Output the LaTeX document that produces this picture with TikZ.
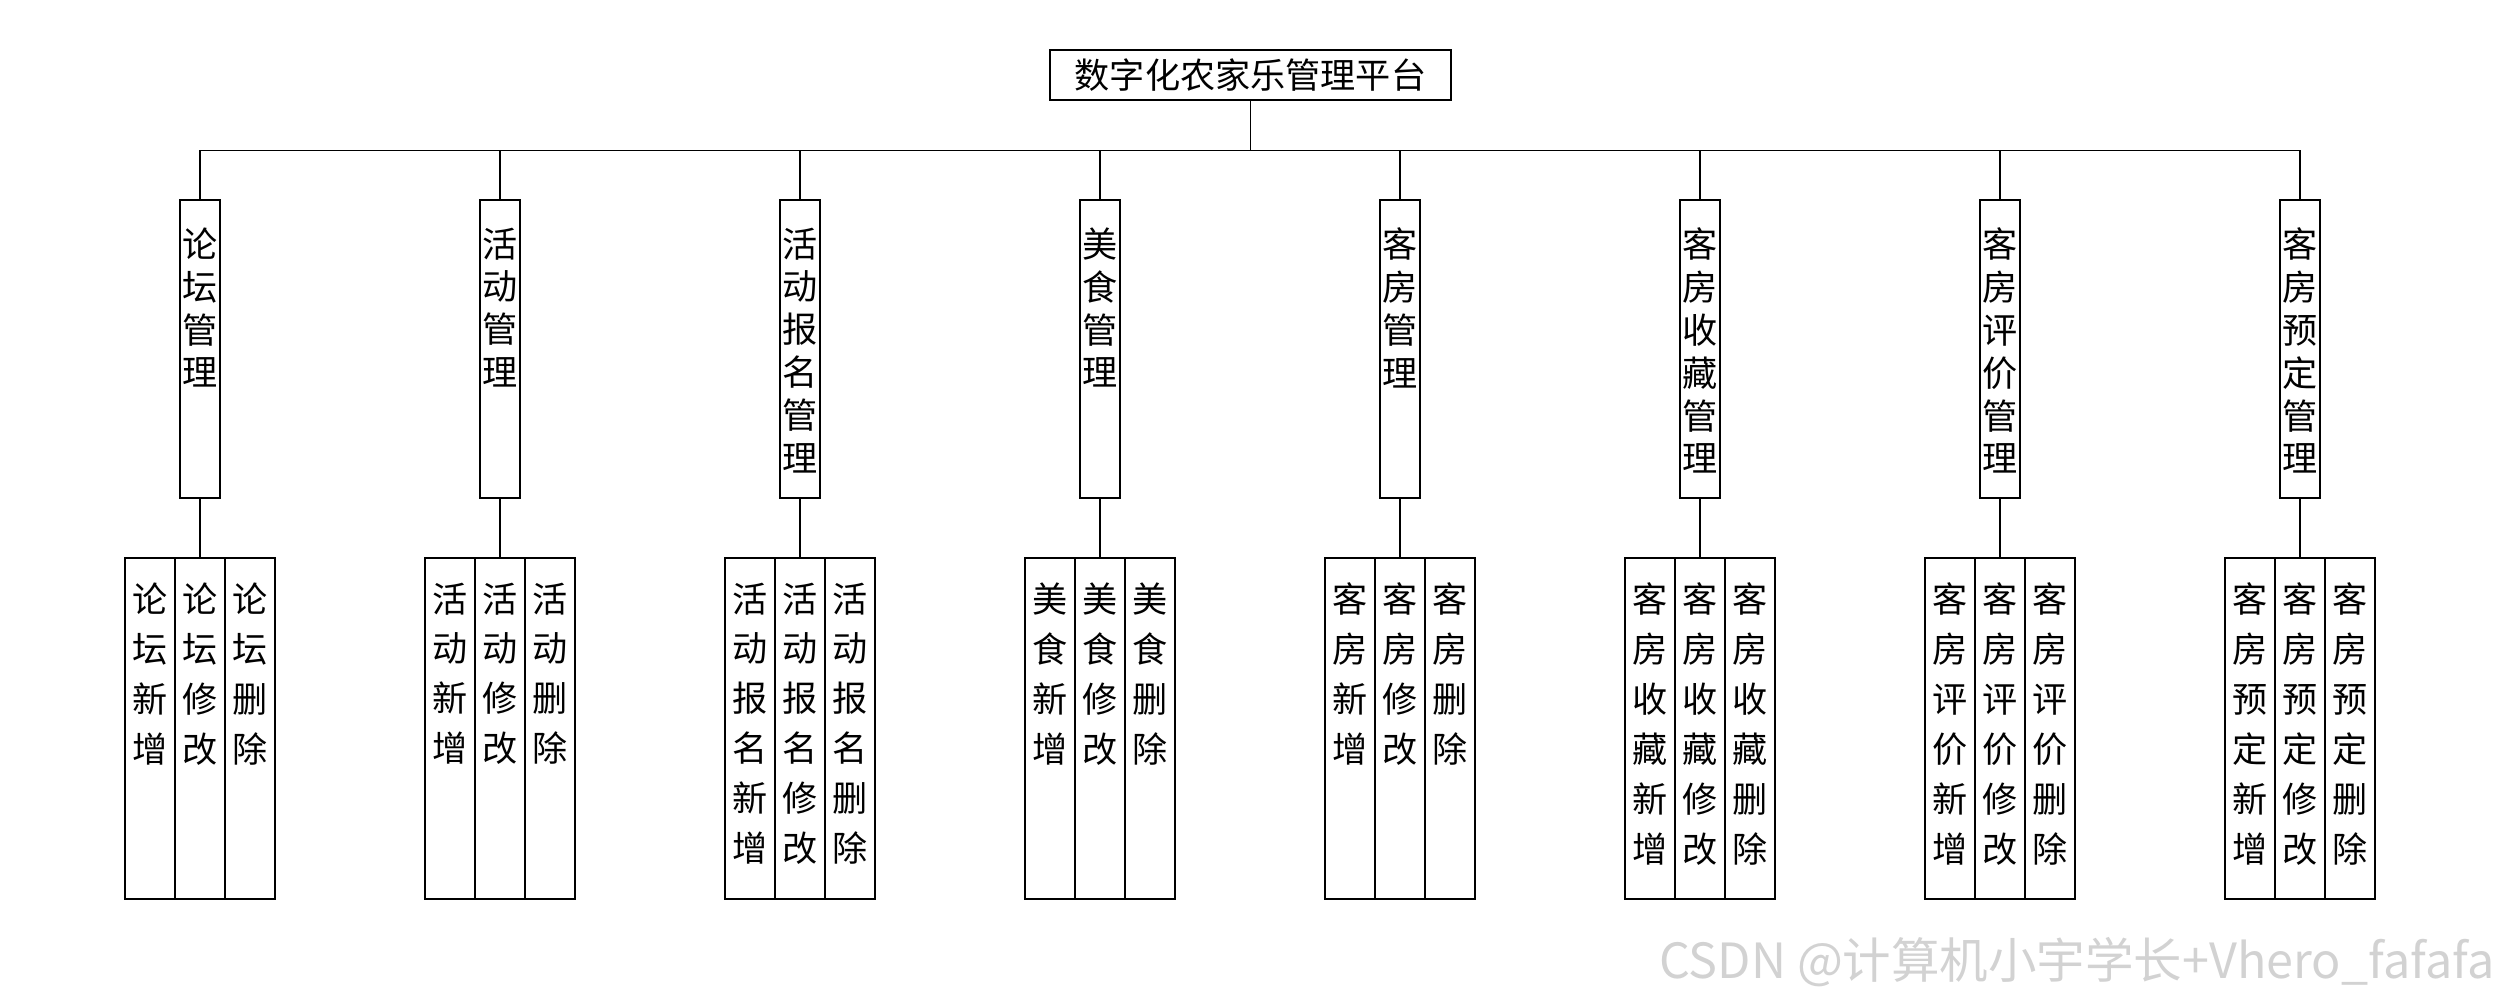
\documentclass[tikz,border=0pt]{standalone}
\usepackage{fontspec}
\setmainfont{Noto Sans CJK SC}
\usetikzlibrary{positioning}
\tikzset{
  rootbox/.style={rectangle, draw, minimum width=4.01cm, minimum height=0.5cm,
                  inner sep=0pt, font=\fontsize{10pt}{12pt}\selectfont},
  modbox/.style={rectangle, draw, minimum width=0.4cm, minimum height=2.98cm,
                 inner sep=0pt, outer sep=0pt},
  opbox/.style={rectangle, draw, minimum width=0.5cm, minimum height=3.41cm,
                inner sep=0pt, outer sep=0pt},
  modtext/.style={inner sep=0pt, align=center, font=\fontsize{10pt}{12.2pt}\selectfont},
  optext/.style={inner sep=0pt, align=center, font=\fontsize{10pt}{14.2pt}\selectfont},
  link/.style={line width=0.4pt},
}

\begin{document}
\begin{tikzpicture}
  \useasboundingbox (0,0) rectangle (25,-10);
  \def\W{3} \def\Y{-3.49} \def\Z{-7.285}

  % Root
  \node[rootbox] (root) at (12.505,-0.75) {数字化农家乐管理平台};

  % Modules and their operations
  \foreach \i/\pre in {1/{论\\坛}, 2/{活\\动}, 3/{活\\动\\报\\名}, 4/{美\\食},
                       5/{客\\房}, 6/{客\\房\\收\\藏}, 7/{客\\房\\评\\价}, 8/{客\\房\\预\\定}} {
    \pgfmathsetmacro\x{2+(\i-1)*\W}
    \node[modbox] (m\i) at (\x,\Y) {};
    \node[modtext, below=0.27cm of m\i.north] (mt\i) {\pre\\管\\理};
    \draw[link] (root.south) -- ++(0,-0.5) -| (m\i.north);

    \node[opbox] (m\i-2) at (\x,\Z) {};
    \node[opbox, left=0pt of m\i-2] (m\i-1) {};
    \node[opbox, right=0pt of m\i-2] (m\i-3) {};
    \node[optext, below=0.24cm of m\i-1.north] (t\i-1) {\pre\\新\\增};
    \node[optext, below=0.24cm of m\i-2.north] (t\i-2) {\pre\\修\\改};
    \node[optext, below=0.24cm of m\i-3.north] (t\i-3) {\pre\\删\\除};
    \draw[link] (m\i.south) -- (m\i-2.north);
  }

  % Watermark
  \node[font=\fontsize{13.8pt}{16pt}\selectfont, text=gray!35, anchor=base east,
        inner sep=0pt] (mark) at (24.95,-9.79) {CSDN @计算机小宇学长+Vhero\_fafafa};
\end{tikzpicture}
\end{document}
